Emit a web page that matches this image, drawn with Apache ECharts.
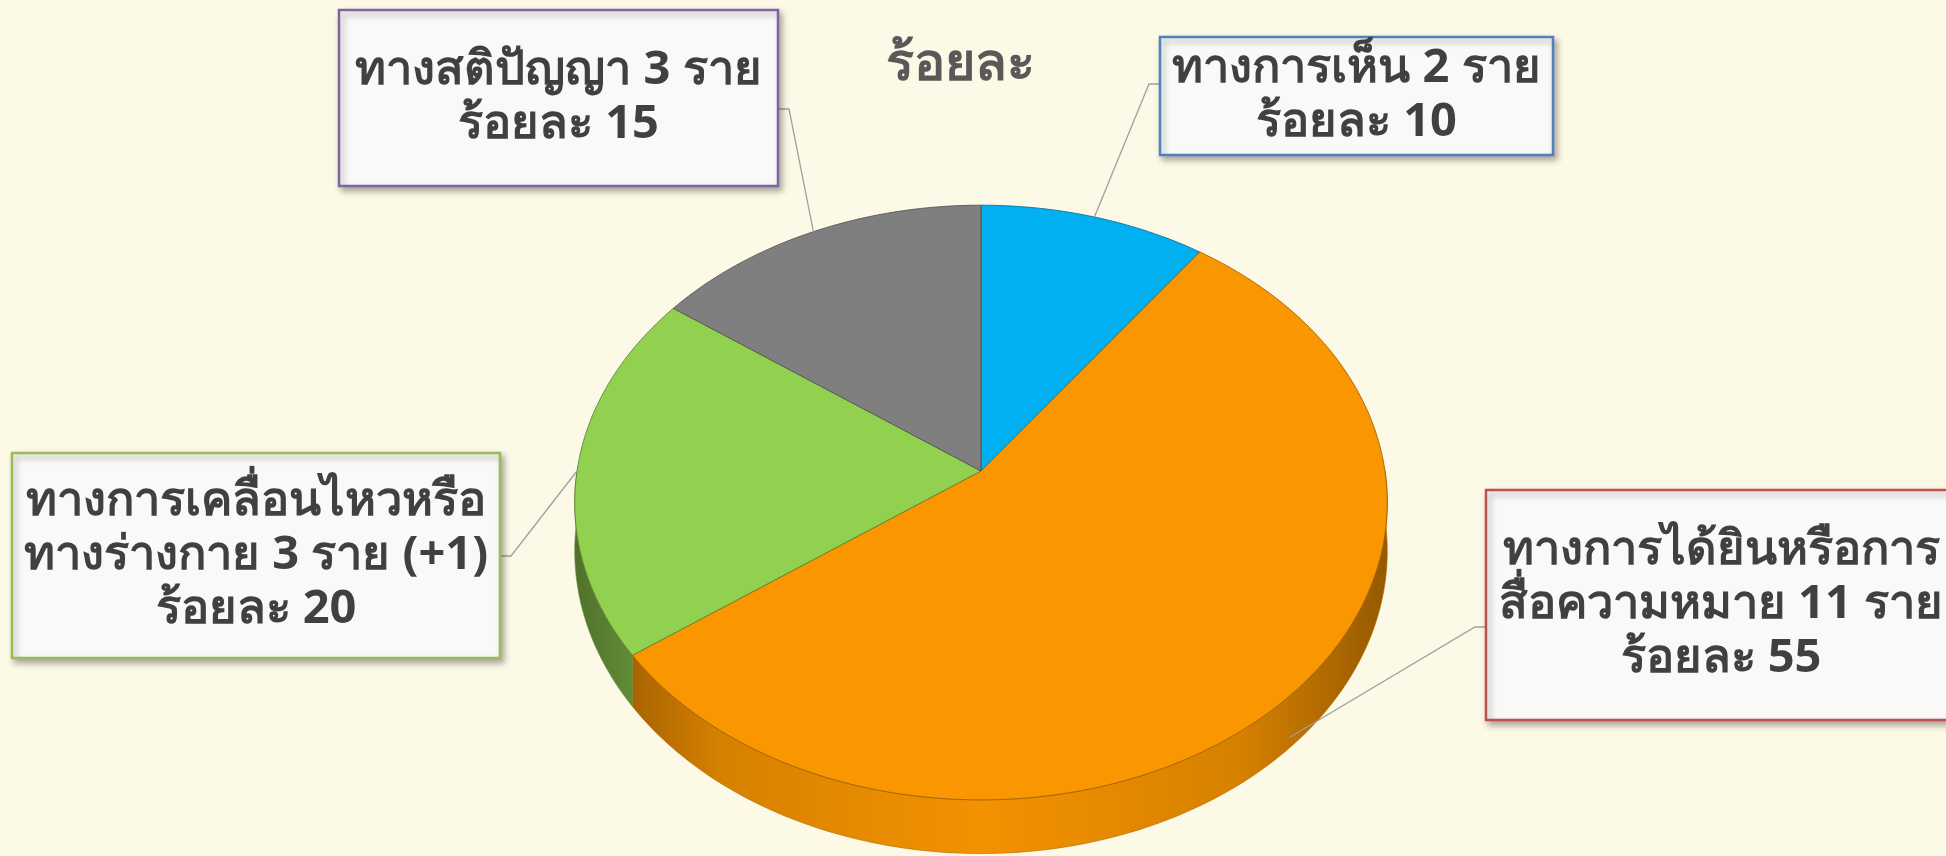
<!DOCTYPE html>
<html>
<head>
<meta charset="utf-8">
<script src="https://cdn.jsdelivr.net/npm/echarts@6/dist/echarts.min.js"></script>
<style>
  html, body { margin: 0; padding: 0; background: #fdf9e7; }
  #chart { width: 1946px; height: 856px; }
</style>
</head>
<body>
<div id="chart"></div>
<script>
// data
const categories = ['ทางการเห็น', 'ทางการได้ยินหรือการสื่อความหมาย', 'ทางการเคลื่อนไหวหรือทางร่างกาย', 'ทางสติปัญญา']
const counts = [2, 11, 3, 3]
const percents = [10, 55, 20, 15]
const labelTexts = [
  'ทางการเห็น 2 ราย\nร้อยละ 10',
  'ทางการได้ยินหรือการ\nสื่อความหมาย 11 ราย\nร้อยละ 55',
  'ทางการเคลื่อนไหวหรือ\nทางร่างกาย 3 ราย (+1)\nร้อยละ 20',
  'ทางสติปัญญา 3 ราย\nร้อยละ 15'
]

// styles / layout
const sliceColors = ['#00b0f0', '#fa9600', '#92d050', '#7f7f7f']
const boxBorders = ['#4f81bd', '#c0504d', '#9bbb59', '#8064a2']
// [x, y, w, h, side of leader, leader y]
const labelBoxes = [
  [1160, 37, 393, 118, 'left', 84],
  [1486, 490, 470, 230, 'left', 627],
  [12, 453, 488, 205, 'right', 556],
  [339, 10, 439, 176, 'right', 109]
]

const CX = 981, CY = 471, RX = 404, RY = 294, K = 0.106, DEPTH = 48
const FONT = 'bold 47px "Noto Sans", "DejaVu Sans", sans-serif'

const total = percents.reduce((a, b) => a + b, 0)
const startAngles = []
let acc = 0
percents.forEach(v => { startAngles.push(acc / total * Math.PI * 2); acc += v })

const project = (theta, drop) => {
  const s = -Math.cos(theta)
  const f = 1 / (1 - K * s)
  return [CX + RX * Math.sin(theta) * f, CY + RY * s * f + drop * f]
}

const shade = (hex, k) => {
  const n = parseInt(hex.slice(1), 16)
  const r = Math.round(((n >> 16) & 255) * k)
  const g = Math.round(((n >> 8) & 255) * k)
  const b = Math.round((n & 255) * k)
  return `rgb(${r},${g},${b})`
}

const arcPoints = (a, b, drop) => {
  const pts = []
  const steps = Math.max(2, Math.ceil((b - a) / (Math.PI / 180)))
  for (let i = 0; i <= steps; i++) pts.push(project(a + (b - a) * i / steps, drop))
  return pts
}

const renderItem = (params, api) => {
  const i = params.dataIndex
  const a = startAngles[i]
  const b = a + api.value(0) / total * Math.PI * 2
  const color = sliceColors[i]
  const children = []

  // front wall
  const wa = Math.max(a, Math.PI / 2)
  const wb = Math.min(b, Math.PI * 1.5)
  if (wb > wa) {
    const top = arcPoints(wa, wb, 0)
    const bottom = arcPoints(wa, wb, DEPTH).reverse()
    children.push({
      type: 'polygon',
      z2: 1,
      shape: { points: top.concat(bottom) },
      style: {
        fill: new echarts.graphic.LinearGradient(CX - RX, 0, CX + RX, 0, [
          { offset: 0, color: shade(color, 0.55) },
          { offset: 0.18, color: shade(color, 0.86) },
          { offset: 0.5, color: shade(color, 0.97) },
          { offset: 0.82, color: shade(color, 0.86) },
          { offset: 1, color: shade(color, 0.6) }
        ], true),
        stroke: shade(color, 0.7),
        lineWidth: 0.6
      }
    })
  }

  // top face
  children.push({
    type: 'polygon',
    z2: 5,
    shape: { points: [[CX, CY]].concat(arcPoints(a, b, 0)) },
    style: { fill: color, stroke: shade(color, 0.6), lineWidth: 0.8 }
  })

  // label box + leader
  const [bx, by, bw, bh, side, ly] = labelBoxes[i]
  const mid = (a + b) / 2
  const s = -Math.cos(mid)
  const end = project(mid, s > 0.3 ? DEPTH * 0.8 : 0)
  const ax = side === 'left' ? bx : bx + bw
  const ex = side === 'left' ? ax - 11 : ax + 11
  children.push({
    type: 'polyline',
    z2: 8,
    shape: { points: [[ax, ly], [ex, ly], end] },
    style: { stroke: '#a0a0a0', lineWidth: 1.3, fill: null }
  })
  children.push({
    type: 'rect',
    z2: 9,
    shape: { x: bx, y: by, width: bw, height: bh },
    style: {
      fill: '#f9f9f7',
      stroke: boxBorders[i],
      lineWidth: 2.5,
      shadowBlur: 6,
      shadowOffsetX: 3,
      shadowOffsetY: 4,
      shadowColor: 'rgba(0,0,0,0.3)'
    }
  })
  children.push({
    type: 'text',
    z2: 10,
    style: {
      text: labelTexts[i],
      x: bx + bw / 2,
      y: by + bh / 2,
      align: 'center',
      verticalAlign: 'middle',
      font: FONT,
      lineHeight: 54,
      fill: '#404040'
    }
  })

  return { type: 'group', children }
}

const chart = echarts.init(document.getElementById('chart'))
chart.setOption({
  backgroundColor: '#fdf9e7',
  animation: false,
  title: {
    text: 'ร้อยละ',
    left: 955,
    top: 34,
    textAlign: 'center',
    textStyle: {
      fontSize: 52,
      fontWeight: 'bold',
      color: '#595959',
      fontFamily: '"Noto Sans", "DejaVu Sans", sans-serif'
    }
  },
  series: [{
    type: 'custom',
    coordinateSystem: 'none',
    renderItem,
    data: percents.map((v, i) => ({ value: v, name: categories[i], count: counts[i] }))
  }]
})
</script>
</body>
</html>
